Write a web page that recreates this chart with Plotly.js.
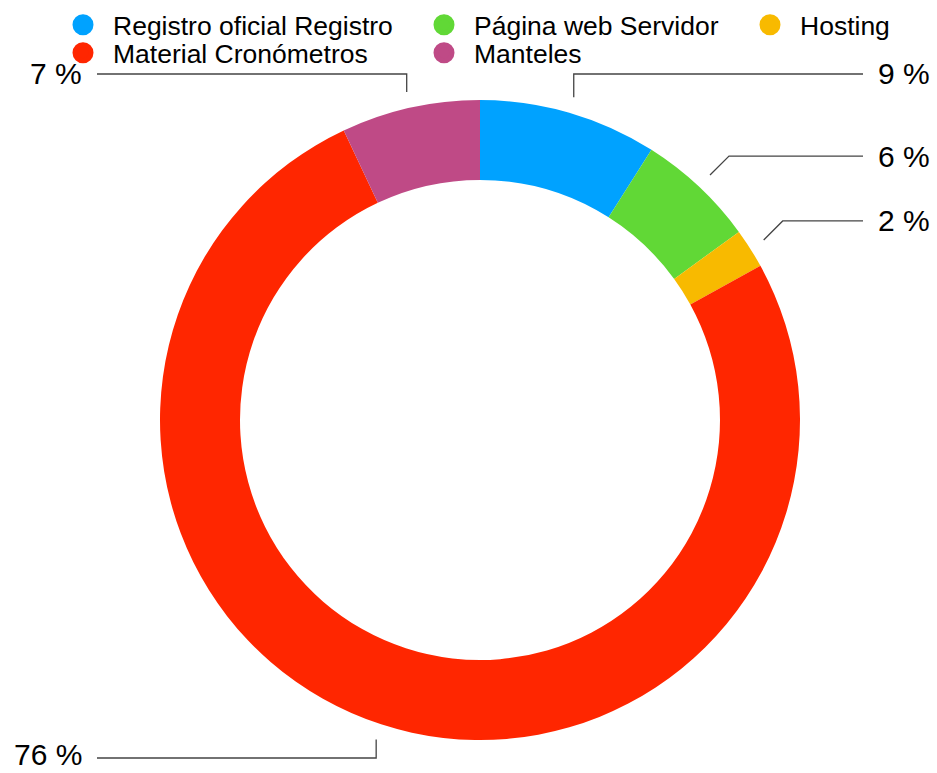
<!DOCTYPE html>
<html>
<head>
<meta charset="utf-8">
<script src="https://cdn.plot.ly/plotly-3.0.1.min.js"></script>
<style>html,body{margin:0;padding:0;background:#fff;}#chart{width:937px;height:773px;}</style>
</head>
<body>
<div id="chart"></div>
<script>
// ---- data ----
const categories = ['Registro oficial Registro', 'Página web Servidor', 'Hosting', 'Material Cronómetros', 'Manteles'];
const shares = [9, 6, 2, 76, 7];
const sliceColors = ['#00A2FF', '#61D836', '#F8BA00', '#FF2600', '#BF4A86'];

// ---- layout constants ----
const W = 937, H = 773;
const CX = 480, CY = 420, R = 320;
const FONT = '"Liberation Sans", Arial, Helvetica, sans-serif';
const px2x = p => p / W;
const py2y = p => 1 - p / H;
// legend item slots (left edge px, top edge px): 3 columns, 2 rows
const legendSlots = [[53, 1], [414, 1], [740, 1], [53, 29], [414, 29]];

const total = shares.reduce((a, b) => a + b, 0);

const traces = [{
  type: 'pie',
  labels: categories,
  values: shares,
  sort: false,
  direction: 'clockwise',
  rotation: 0,
  hole: 0.75,
  textinfo: 'none',
  showlegend: false,
  marker: {colors: sliceColors, line: {width: 0}},
  domain: {x: [px2x(CX - R), px2x(CX + R)], y: [py2y(CY + R), py2y(CY - R)]}
}];

const layout = {
  width: W, height: H, autosize: false,
  margin: {l: 0, r: 0, t: 0, b: 0, pad: 0},
  paper_bgcolor: '#fff', plot_bgcolor: '#fff',
  xaxis: {visible: false}, yaxis: {visible: false},
  showlegend: true,
  font: {family: FONT}
};

categories.forEach((c, i) => {
  const key = i === 0 ? 'legend' : 'legend' + (i + 1);
  traces.push({
    type: 'scatter', mode: 'markers', x: [null], y: [null],
    name: c, legend: key, showlegend: true, hoverinfo: 'skip',
    marker: {color: sliceColors[i], size: 16, symbol: 'circle', line: {color: sliceColors[i], width: 5}}
  });
  layout[key] = {
    orientation: 'v', xanchor: 'left', yanchor: 'top',
    x: px2x(legendSlots[i][0]), y: py2y(legendSlots[i][1]),
    itemwidth: 50, bgcolor: 'rgba(0,0,0,0)', borderwidth: 0,
    font: {family: FONT, size: 26.5, color: '#000'}
  };
});

// leader lines + percent labels computed from the slice angles
const shapes = [], annotations = [];
let cum = 0;
shares.forEach((v, i) => {
  const mid = (cum + v / 2) / total * 2 * Math.PI;
  cum += v;
  const rs = R + 16;
  const sx = CX + rs * Math.sin(mid), sy = CY - rs * Math.cos(mid);
  const right = Math.sin(mid) >= 0;
  let ex, ey;
  if (Math.abs(Math.sin(mid)) < 0.45) {
    ex = sx;
    ey = Math.cos(mid) > 0 ? CY - (R + 26) : CY + (R + 18);
  } else {
    const d = 19;
    ex = sx + (right ? d : -d);
    ey = sy + (Math.cos(mid) > 0 ? -d : d);
  }
  const hx = right ? 863 : 97;
  shapes.push({
    type: 'path', xref: 'paper', yref: 'paper',
    path: `M ${px2x(sx)} ${py2y(sy)} L ${px2x(ex)} ${py2y(ey)} L ${px2x(hx)} ${py2y(ey)}`,
    line: {color: '#444444', width: 1.3}
  });
  const bottom = Math.cos(mid) < 0 && Math.abs(Math.sin(mid)) < 0.45;
  annotations.push({
    xref: 'paper', yref: 'paper', showarrow: false,
    x: px2x(right ? 876 : 84), y: bottom ? 0 : py2y(ey),
    xanchor: right ? 'left' : 'right', yanchor: bottom ? 'bottom' : 'middle',
    text: Math.round(v / total * 100) + ' %',
    font: {family: FONT, size: 30, color: '#000'}
  });
});
layout.shapes = shapes;
layout.annotations = annotations;

Plotly.newPlot('chart', traces, layout, {displayModeBar: false, staticPlot: true});
</script>
</body>
</html>
